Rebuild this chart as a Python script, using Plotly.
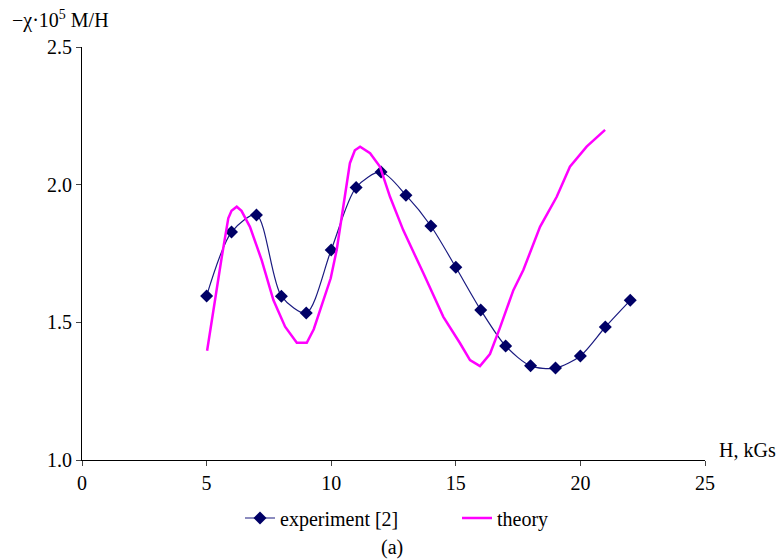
import plotly.graph_objects as go

# Experiment data
exp_H = [5, 6, 7, 8, 9, 10, 11, 12, 13, 14, 15, 16, 17, 18, 19, 20, 21, 22]
exp_chi = [1.596, 1.828, 1.89, 1.595, 1.534, 1.763, 1.99, 2.046, 1.962, 1.85,
           1.70, 1.545, 1.414, 1.342, 1.334, 1.378, 1.483, 1.58]

# Theory curve
th_H = [5.02, 5.27, 5.61, 5.87, 6.0, 6.21, 6.4, 6.74, 7.21, 7.68, 8.15, 8.62, 9.02, 9.3, 9.55,
        9.98, 10.22, 10.55, 10.75, 10.95, 11.16, 11.56, 11.96, 12.36, 12.89, 13.70, 14.50,
        15.17, 15.57, 15.97, 16.37, 16.77, 17.31, 17.71, 18.38, 19.05, 19.58,
        20.25, 20.99]
th_chi = [1.397, 1.545, 1.738, 1.878, 1.905, 1.92, 1.905, 1.847, 1.726, 1.581, 1.484, 1.426,
          1.426, 1.475, 1.545, 1.66, 1.763, 1.956, 2.078, 2.125, 2.138, 2.114, 2.065, 1.956,
          1.835, 1.678, 1.520, 1.424, 1.363, 1.341, 1.385, 1.48, 1.617, 1.69,
          1.847, 1.956, 2.065, 2.138, 2.199]

x_ticks = [0, 5, 10, 15, 20, 25]
y_ticks = [1.0, 1.5, 2.0, 2.5]

FONT = "Liberation Serif"
FS = 20

W, H = 781, 559
L, T, R, B = 82, 47, 76, 99
pw, ph = W - L - R, H - T - B


def px(xp):
    return (xp - L) / pw


def py(yp):
    return (T + ph - yp) / ph


fig = go.Figure()
fig.add_trace(go.Scatter(
    x=exp_H, y=exp_chi, mode="lines+markers", name="experiment [2]",
    line=dict(color="#1a1a80", width=1.2, shape="spline", smoothing=0.8),
    marker=dict(symbol="diamond", size=10, color="#000066"),
))
fig.add_trace(go.Scatter(
    x=th_H, y=th_chi, mode="lines", name="theory",
    line=dict(color="#FF00FF", width=2.5),
))

fig.update_layout(
    width=W, height=H,
    margin=dict(l=L, r=R, t=T, b=B),
    paper_bgcolor="white", plot_bgcolor="white",
    font=dict(family=FONT, size=FS, color="black"),
    showlegend=True,
    legend=dict(orientation="h", x=px(240), xanchor="left", y=py(518), yanchor="middle",
                entrywidth=172, entrywidthmode="pixels",
                font=dict(family=FONT, size=FS, color="black"), itemwidth=30),
    xaxis=dict(range=[0, 25], tickvals=x_ticks, ticks="outside", ticklen=5,
               showline=True, linecolor="black", linewidth=1, showgrid=False,
               zeroline=False, tickfont=dict(family=FONT, size=FS)),
    yaxis=dict(range=[1.0, 2.5], tickvals=y_ticks, tickformat=".1f", ticks="outside",
               ticklen=5, showline=True, linecolor="black", linewidth=1,
               showgrid=False, zeroline=False, tickfont=dict(family=FONT, size=FS)),
    annotations=[
        dict(text="−χ·10<sup>5</sup> M/H", x=px(10), y=py(5), xref="paper", yref="paper",
             xanchor="left", yanchor="top", showarrow=False,
             font=dict(family=FONT, size=FS)),
        dict(text="H, kGs", x=px(778), y=py(450), xref="paper", yref="paper",
             xanchor="right", yanchor="middle", showarrow=False,
             font=dict(family=FONT, size=FS)),
        dict(text="(a)", x=px(392), y=py(547), xref="paper", yref="paper",
             xanchor="center", yanchor="middle", showarrow=False,
             font=dict(family=FONT, size=FS)),
    ],
)

fig.write_html(
    "out.html",
    config={"displayModeBar": False},
    post_script="document.body.style.margin='0';document.documentElement.style.overflow='hidden';document.body.style.overflow='hidden';",
)
